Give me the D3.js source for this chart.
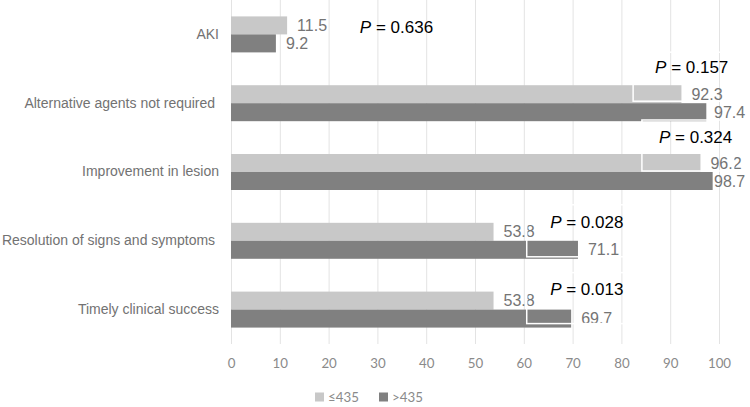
<!DOCTYPE html>
<html>
<head>
<meta charset="utf-8">
<script src="https://cdn.jsdelivr.net/npm/d3@7"></script>
<style>
  html, body { margin: 0; padding: 0; background: #fff; }
  svg { display: block; }
</style>
</head>
<body>
<svg id="chart" width="750" height="407"></svg>
<script>
// ---- data ----
const categories = [
  "AKI",
  "Alternative agents not required ",
  "Improvement in lesion",
  "Resolution of signs and symptoms ",
  "Timely clinical success"
];
const seriesNames = ["\u2264435", ">435"];
const lowValues  = [11.5, 92.3, 96.2, 53.8, 53.8];
const highValues = [9.2, 97.4, 98.7, 71.1, 69.7];
const pValues = ["0.636", "0.157", "0.324", "0.028", "0.013"];
const xTicks = [0, 10, 20, 30, 40, 50, 60, 70, 80, 90, 100];

// ---- layout ----
const W = 750, H = 407;
const plotTop = 0, plotBottom = 344, plotLeft = 231, plotRight = 719;
const colors = ["#c8c8c8", "#808080"];

const svg = d3.select("#chart");

const x = d3.scaleLinear().domain([0, 100]).range([plotLeft, plotRight]);
const y = d3.scaleBand().domain(categories).range([plotTop, plotBottom])
  .paddingInner(0.477).paddingOuter(0.2385);
const ySub = d3.scaleBand().domain(seriesNames).range([0, y.bandwidth()]);

const rows = categories.map((c, i) => ({
  cat: c,
  vals: [lowValues[i], highValues[i]],
  p: pValues[i]
}));

// gridlines
svg.append("g").selectAll("line").data(xTicks).join("line")
  .attr("x1", d => x(d) + 0.5).attr("x2", d => x(d) + 0.5)
  .attr("y1", plotTop).attr("y2", plotBottom)
  .attr("stroke", "#e3e3e3").attr("stroke-width", 1);

// x axis tick labels
const xAxis = d3.axisBottom(x).tickValues(xTicks).tickSize(0).tickPadding(0);
const gx = svg.append("g").attr("transform", `translate(0, ${plotBottom + 20})`).call(xAxis);
gx.select(".domain").remove();
gx.selectAll("text")
  .attr("dy", "0.32em").attr("y", 0)
  .attr("font-family", "Lato, 'Open Sans', sans-serif")
  .attr("font-size", 13.3).attr("fill", "#8a8a8a");

// category labels
const gy = svg.append("g").attr("transform", `translate(${plotLeft - 12}, 0)`)
  .call(d3.axisLeft(y).tickSize(0).tickPadding(0));
gy.select(".domain").remove();
gy.selectAll("text")
  .attr("font-family", "'Liberation Sans', Arial, Helvetica, sans-serif")
  .attr("font-size", 14).attr("fill", "#727272")
  .style("white-space", "pre");

// bars
const groups = svg.append("g").selectAll("g").data(rows).join("g")
  .attr("transform", d => `translate(0, ${y(d.cat)})`);

groups.selectAll("rect").data(d => d.vals.map((v, k) => ({ v, k }))).join("rect")
  .attr("x", x(0))
  .attr("y", d => ySub(seriesNames[d.k]))
  .attr("width", d => x(d.v) - x(0))
  .attr("height", ySub.bandwidth())
  .attr("fill", d => colors[d.k]);

// value labels
groups.selectAll("text.val").data(d => d.vals.map((v, k) => ({ v, k }))).join("text")
  .attr("class", "val")
  .attr("x", d => Math.min(x(d.v) + 10, 714))
  .attr("y", d => ySub(seriesNames[d.k]) + ySub.bandwidth() / 2)
  .attr("dy", "0.35em")
  .attr("font-family", "'Liberation Sans', Arial, Helvetica, sans-serif")
  .attr("font-size", 16).attr("fill", "#747474")
  .text(d => d.v.toFixed(1));

// P-value annotation boxes (hand-placed in original): anchor in value units and offset from band centre
const pLayout = [
  { vx: 26.4, dy: -7,  box: null },
  { vx: 86.9, dy: -36, box: { vl: 82.4, top: -51, bottom: -2,  vr: 103 } },
  { vx: 87.7, dy: -35, box: { vl: 84.2, top: -52, bottom: -1,  vr: 103 } },
  { vx: 65.4, dy: -19, box: { vl: 60.6, top: -36, bottom: 16,  vr: 82 } },
  { vx: 65.4, dy: -21, box: { vl: 60.6, top: -37, bottom: 14,  vr: 82 } }
];

rows.forEach((r, i) => {
  const cy = y(r.cat) + y.bandwidth() / 2;
  const L = pLayout[i];
  if (L.box) {
    svg.append("rect")
      .attr("x", x(L.box.vl))
      .attr("y", cy + L.box.top)
      .attr("width", x(L.box.vr) - x(L.box.vl))
      .attr("height", L.box.bottom - L.box.top)
      .attr("fill", "none").attr("stroke", "#ffffff").attr("stroke-width", 1.5);
  }
});

rows.forEach((r, i) => {
  const cy = y(r.cat) + y.bandwidth() / 2;
  const L = pLayout[i];
  const t = svg.append("text")
    .attr("x", x(L.vx)).attr("y", cy + L.dy).attr("dy", "0.35em")
    .attr("font-family", "'Liberation Sans', Arial, Helvetica, sans-serif")
    .attr("font-size", 17).attr("fill", "#000");
  t.append("tspan").attr("font-style", "italic").text("P");
  t.append("tspan").text(" = " + r.p);
});

// legend
const legend = svg.append("g").attr("transform", `translate(315, 397)`);
const li = legend.selectAll("g").data(seriesNames).join("g")
  .attr("transform", (d, k) => `translate(${k * 64}, 0)`);
li.append("rect").attr("x", 0).attr("y", -4.5).attr("width", 9).attr("height", 9)
  .attr("fill", (d, k) => colors[k]);
li.append("text").attr("x", 13).attr("y", 0).attr("dy", "0.35em")
  .attr("font-family", "Lato, 'Open Sans', sans-serif")
  .attr("font-size", 13.3).attr("fill", "#8a8a8a")
  .text(d => d);
</script>
</body>
</html>
